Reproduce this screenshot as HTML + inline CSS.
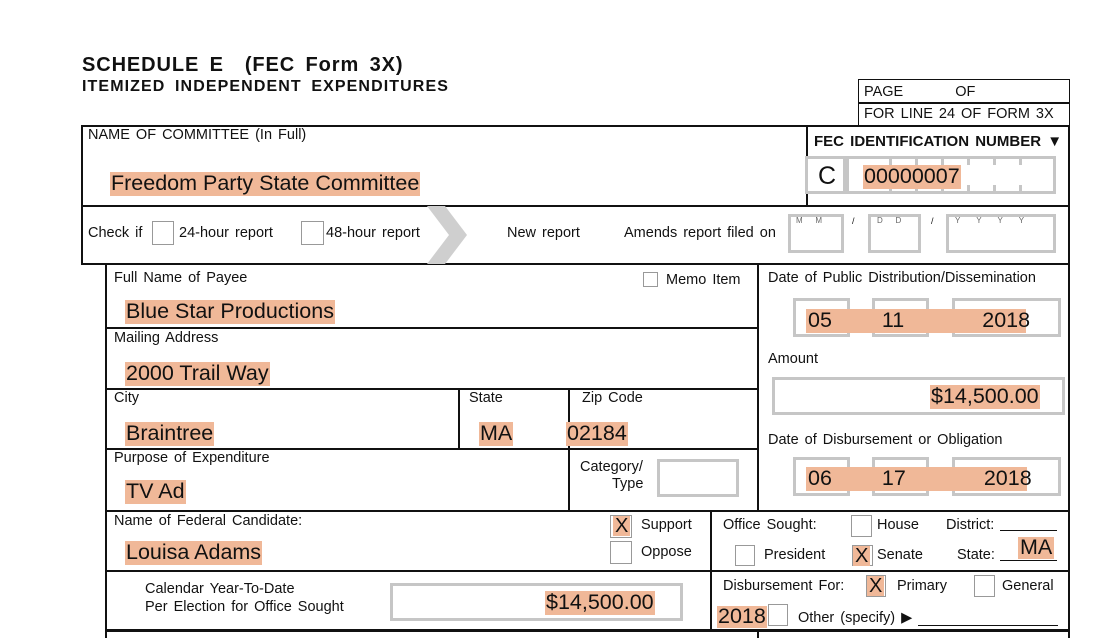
<!DOCTYPE html><html><head><style>
body{margin:0;width:1120px;height:638px;background:#fff;position:relative;overflow:hidden;font-family:"Liberation Sans",Arial,sans-serif;color:#111}
div{position:absolute;box-sizing:border-box}
.l{font-size:14.5px;line-height:1;white-space:nowrap;word-spacing:2px}
.v{font-size:21.5px;line-height:1;white-space:nowrap;background:#f0b898;padding:1px 1px}
.h{background:#111;height:1.5px}
.vl{background:#111;width:1.5px}
.g{border:3px solid #c6c6c6}
.cb{border:1.5px solid #999;background:#fff}
.t{background:#c6c6c6;width:3px;height:6px}
</style></head><body>
<div class="l" style="left:82px;top:55px;font-size:20px;font-weight:bold;word-spacing:4px;letter-spacing:0.9px">SCHEDULE E &nbsp;(FEC Form 3X)</div>
<div class="l" style="left:82px;top:79px;font-size:16px;font-weight:bold;word-spacing:4px;letter-spacing:1.1px">ITEMIZED INDEPENDENT EXPENDITURES</div>
<div style="left:858px;top:79px;width:212px;height:48px;border:1.5px solid #111;border-bottom:none"></div>
<div class="h" style="left:858px;top:102px;width:212px"></div>
<div class="l" style="left:864px;top:85px">PAGE <span style="margin-left:46px">OF</span></div>
<div class="l" style="left:864px;top:107px">FOR LINE 24 OF FORM 3X</div>
<div style="left:81px;top:125px;width:989px;height:140px;border:2px solid #111"></div>
<div class="vl" style="left:806px;top:125px;height:80px"></div>
<div class="h" style="left:81px;top:205px;width:989px"></div>
<div class="l" style="left:88px;top:128px">NAME OF COMMITTEE (In Full)</div>
<div class="v" style="left:110px;top:172px">Freedom Party State Committee</div>
<div class="l" style="left:814px;top:134px;font-weight:bold;font-size:15px">FEC IDENTIFICATION NUMBER ▼</div>
<div class="g" style="left:805px;top:156px;width:251px;height:38px"></div>
<div style="left:843px;top:158px;width:6px;height:34px;background:#c6c6c6"></div>
<div class="l" style="left:818px;top:164px;font-size:25px">C</div>
<div class="t" style="left:889px;top:159px"></div><div class="t" style="left:915px;top:159px"></div><div class="t" style="left:941px;top:159px"></div><div class="t" style="left:967px;top:159px"></div><div class="t" style="left:993px;top:159px"></div><div class="t" style="left:1019px;top:159px"></div>
<div class="t" style="left:889px;top:185px"></div><div class="t" style="left:915px;top:185px"></div><div class="t" style="left:941px;top:185px"></div><div class="t" style="left:967px;top:185px"></div><div class="t" style="left:993px;top:185px"></div><div class="t" style="left:1019px;top:185px"></div>
<div class="v" style="left:863px;top:165px">00000007</div>
<div class="l" style="left:88px;top:226px">Check if</div>
<div class="cb" style="left:152px;top:221px;width:22px;height:24px"></div>
<div class="l" style="left:179px;top:226px">24-hour report</div>
<div class="cb" style="left:301px;top:221px;width:23px;height:24px"></div>
<div class="l" style="left:326px;top:226px">48-hour report</div>
<svg style="position:absolute;left:425px;top:206px" width="50" height="58"><polygon points="2,0 20,0 42,29 20,58 2,58 24,29" fill="#cfcfcf"/></svg>
<div class="l" style="left:507px;top:226px">New report</div>
<div class="l" style="left:624px;top:226px">Amends report filed on</div>
<div class="g" style="left:788px;top:214px;width:56px;height:39px"></div>
<div class="g" style="left:868px;top:214px;width:53px;height:39px"></div>
<div class="g" style="left:946px;top:214px;width:110px;height:39px"></div>
<div class="l" style="left:796px;top:217px;font-size:8px;color:#666">M &nbsp; M</div>
<div class="l" style="left:877px;top:217px;font-size:8px;color:#666">D &nbsp; D</div>
<div class="l" style="left:955px;top:217px;font-size:8px;color:#666;word-spacing:14px">Y Y Y Y</div>
<div class="l" style="left:852px;top:217px;font-size:9px">/</div><div class="l" style="left:931px;top:217px;font-size:9px">/</div>
<!-- lower -->
<div class="vl" style="left:105px;top:264px;height:374px"></div>
<div class="vl" style="left:1068px;top:264px;height:374px;width:2px"></div>
<div class="vl" style="left:757px;top:264px;height:246px"></div>
<div class="h" style="left:105px;top:327px;width:652px"></div>
<div class="h" style="left:105px;top:388px;width:652px"></div>
<div class="h" style="left:105px;top:448px;width:652px"></div>
<div class="h" style="left:105px;top:510px;width:964px"></div>
<div class="h" style="left:105px;top:570px;width:964px"></div>
<div style="left:105px;top:629px;width:964px;height:3px;background:#111"></div>
<div class="vl" style="left:458px;top:388px;height:60px"></div>
<div class="vl" style="left:568px;top:388px;height:122px"></div>
<div class="vl" style="left:710px;top:510px;height:120px"></div>
<div class="vl" style="left:757px;top:630px;height:8px"></div>
<div class="l" style="left:114px;top:271px">Full Name of Payee</div>
<div class="cb" style="left:643px;top:272px;width:15px;height:15px"></div>
<div class="l" style="left:666px;top:273px">Memo Item</div>
<div class="v" style="left:125px;top:300px">Blue Star Productions</div>
<div class="l" style="left:114px;top:331px">Mailing Address</div>
<div class="v" style="left:125px;top:362px">2000 Trail Way</div>
<div class="l" style="left:114px;top:391px">City</div>
<div class="v" style="left:125px;top:422px">Braintree</div>
<div class="l" style="left:469px;top:391px">State</div>
<div class="v" style="left:479px;top:422px">MA</div>
<div class="l" style="left:582px;top:391px">Zip Code</div>
<div class="v" style="left:566px;top:422px">02184</div>
<div class="l" style="left:114px;top:451px">Purpose of Expenditure</div>
<div class="v" style="left:125px;top:480px">TV Ad</div>
<div class="l" style="left:580px;top:460px">Category/</div>
<div class="l" style="left:612px;top:477px">Type</div>
<div class="g" style="left:657px;top:459px;width:82px;height:38px"></div>
<div class="l" style="left:114px;top:514px">Name of Federal Candidate:</div>
<div class="v" style="left:125px;top:541px">Louisa Adams</div>
<div class="cb" style="left:610px;top:515px;width:22px;height:23px"></div>
<div class="v" style="left:613px;top:516px;font-size:20px;padding:0 2px">X</div>
<div class="l" style="left:641px;top:518px">Support</div>
<div class="cb" style="left:610px;top:541px;width:22px;height:23px"></div>
<div class="l" style="left:641px;top:545px">Oppose</div>
<div class="l" style="left:145px;top:582px">Calendar Year-To-Date</div>
<div class="l" style="left:145px;top:600px">Per Election for Office Sought</div>
<div class="g" style="left:390px;top:583px;width:293px;height:38px"></div>
<div class="v" style="left:545px;top:591px">$14,500.00</div>
<!-- right column -->
<div class="l" style="left:768px;top:271px">Date of Public Distribution/Dissemination</div>
<div class="g" style="left:793px;top:298px;width:57px;height:39px"></div>
<div class="g" style="left:872px;top:298px;width:57px;height:39px"></div>
<div class="g" style="left:952px;top:298px;width:109px;height:39px"></div>
<div class="v" style="left:806px;top:309px;width:220px;padding-left:2px">05<span style="margin-left:50px">11</span><span style="margin-left:78px">2018</span></div>
<div class="l" style="left:768px;top:352px">Amount</div>
<div class="g" style="left:772px;top:377px;width:293px;height:38px"></div>
<div class="v" style="left:930px;top:385px">$14,500.00</div>
<div class="l" style="left:768px;top:433px">Date of Disbursement or Obligation</div>
<div class="g" style="left:793px;top:457px;width:57px;height:39px"></div>
<div class="g" style="left:872px;top:457px;width:57px;height:39px"></div>
<div class="g" style="left:952px;top:457px;width:109px;height:39px"></div>
<div class="v" style="left:806px;top:467px;width:221px;padding-left:2px">06<span style="margin-left:50px">17</span><span style="margin-left:78px">2018</span></div>
<div class="l" style="left:723px;top:518px">Office Sought:</div>
<div class="cb" style="left:851px;top:515px;width:21px;height:22px"></div>
<div class="l" style="left:877px;top:518px">House</div>
<div class="l" style="left:946px;top:518px">District:</div>
<div class="h" style="left:1000px;top:530px;width:57px;height:1px"></div>
<div class="cb" style="left:735px;top:545px;width:20px;height:21px"></div>
<div class="l" style="left:764px;top:548px">President</div>
<div class="cb" style="left:852px;top:545px;width:21px;height:21px"></div>
<div class="v" style="left:853px;top:546px;font-size:20px;padding:0 2px">X</div>
<div class="l" style="left:877px;top:548px">Senate</div>
<div class="l" style="left:957px;top:548px">State:</div>
<div class="h" style="left:1000px;top:560px;width:57px;height:1px"></div>
<div class="v" style="left:1018px;top:537px;padding:0 2px">MA</div>
<div class="l" style="left:723px;top:579px">Disbursement For:</div>
<div class="cb" style="left:866px;top:575px;width:20px;height:22px"></div>
<div class="v" style="left:867px;top:576px;font-size:20px;padding:0 2px">X</div>
<div class="l" style="left:897px;top:579px">Primary</div>
<div class="cb" style="left:974px;top:575px;width:21px;height:22px"></div>
<div class="l" style="left:1002px;top:579px">General</div>
<div class="v" style="left:717px;top:606px;padding:0 1px">2018</div>
<div class="cb" style="left:768px;top:604px;width:20px;height:22px"></div>
<div class="l" style="left:798px;top:611px">Other (specify) ▶</div>
<div class="h" style="left:918px;top:625px;width:140px;height:1px"></div>
</body></html>
